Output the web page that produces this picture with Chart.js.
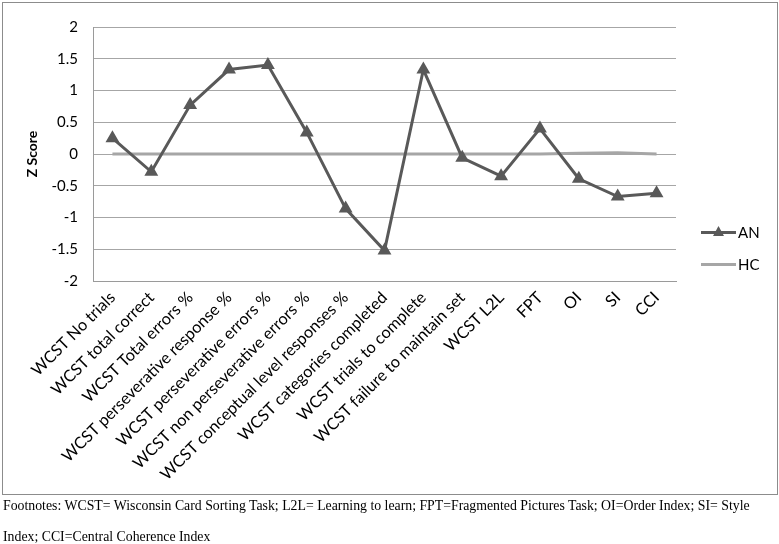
<!DOCTYPE html>
<html><head><meta charset="utf-8">
<script src="https://cdn.jsdelivr.net/npm/chart.js@4/dist/chart.umd.min.js"></script>
<style>
html,body{margin:0;padding:0;background:#fff;}
#box{position:absolute;left:2px;top:2px;width:774px;height:491px;border:1px solid #8c8c8c;}
#c{position:absolute;left:0;top:0;}
.leg{position:absolute;font-family:Lato,"Open Sans",sans-serif;font-size:15px;color:#000;}
.leg .ln{position:absolute;left:0;top:8px;width:35px;height:3px;}
.leg .tx{position:absolute;left:37px;top:0;}
#foot{position:absolute;left:3px;top:490px;width:776px;font-family:"Liberation Serif","Times New Roman",serif;font-size:13.8px;line-height:31px;color:#000;white-space:nowrap;}
</style></head>
<body>
<div id="box"><canvas id="c" width="774" height="491"></canvas>
<div class="leg" style="left:698px;top:220px"><div class="ln" style="background:#595959"></div>
<svg style="position:absolute;left:12px;top:3px" width="11" height="10"><polygon points="5.5,0 11,10 0,10" fill="#595959"/></svg><div class="tx">AN</div></div>
<div class="leg" style="left:698px;top:252px"><div class="ln" style="background:#a6a6a6"></div><div class="tx">HC</div></div>
</div>
<div id="foot">Footnotes: WCST= Wisconsin Card Sorting Task; L2L= Learning to learn; FPT=Fragmented Pictures Task; OI=Order Index; SI= Style<br>Index; CCI=Central Coherence Index</div>
<script>
const categories = ["WCST No trials","WCST total correct","WCST Total errors %","WCST perseverative response %","WCST perseverative errors %","WCST non perseverative errors %","WCST conceptual level responses %","WCST categories completed","WCST trials to complete","WCST failure to maintain set","WCST L2L","FPT","OI","SI","CCI"];
const anValues = [0.25,-0.28,0.77,1.33,1.40,0.34,-0.86,-1.52,1.33,-0.06,-0.35,0.40,-0.39,-0.67,-0.62];
const hcValues = [0,0,0,0,0,0,0,0,0,0,0,0,0.01,0.02,0];
const yTicks = [2,1.5,1,0.5,0,-0.5,-1,-1.5,-2];

new Chart(document.getElementById('c'),{
  type:'line',
  data:{labels:categories,datasets:[
    {label:'HC',data:hcValues,borderColor:'#a6a6a6',borderWidth:3,pointRadius:0,tension:0,order:2},
    {label:'AN',data:anValues,borderColor:'#595959',backgroundColor:'#595959',borderWidth:3,pointStyle:'triangle',pointRadius:5,pointHoverRadius:5,tension:0,order:1}
  ]},
  options:{
    responsive:false,animation:false,
    layout:{padding:{left:0,top:17,right:101,bottom:0}},
    plugins:{legend:{display:false},tooltip:{enabled:false}},
    scales:{
      x:{
        offset:true,
        grid:{display:false,drawTicks:false},
        border:{display:true,color:'#9a9a9a',width:1},
        ticks:{maxRotation:45,minRotation:45,autoSkip:false,padding:7,color:'#000',font:{family:'Lato',size:16.3}},
        afterFit:(s)=>{s.height=213;}
      },
      y:{
        min:-2,max:2,
        afterBuildTicks:(s)=>{s.ticks=yTicks.map(v=>({value:v}));},
        grid:{color:'#a6a6a6',lineWidth:1,drawTicks:false},
        border:{display:true,color:'#9a9a9a',width:1},
        ticks:{padding:15,color:'#000',font:{family:'Lato',size:15},callback:(v)=>String(v)},
        title:{display:true,text:'Z Score',color:'#000',font:{family:'Lato',size:14,weight:'bold'},padding:{top:21,bottom:0}},
        afterFit:(s)=>{s.width=90;}
      }
    }
  }
});
</script>
</body></html>
